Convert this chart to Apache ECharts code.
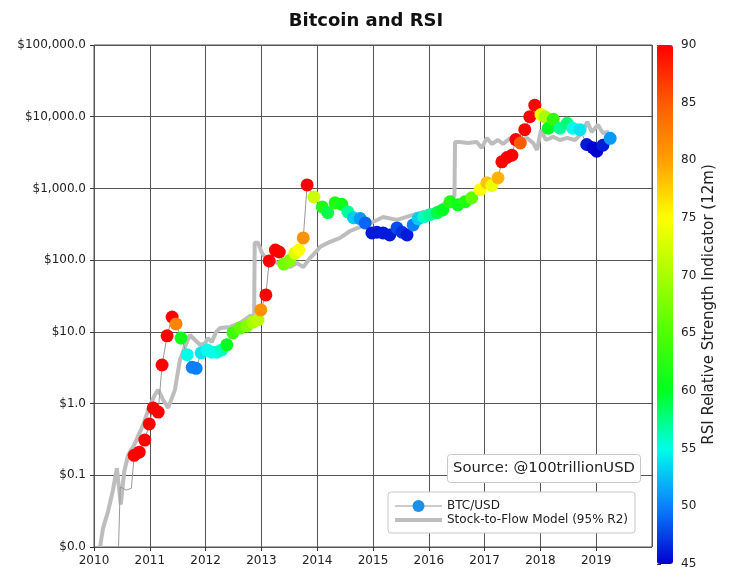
<!DOCTYPE html>
<html>
<head>
<meta charset="utf-8">
<script src="https://cdn.jsdelivr.net/npm/echarts@6/dist/echarts.min.js"></script>
<style>
  html, body { margin: 0; padding: 0; background: #fff; }
  #chart { width: 732px; height: 583px; }
</style>
</head>
<body>
<div id="chart"></div>
<script>
// BTC/USD price (decimal year, USD, 12m RSI; null = no dot)
const btcDates = [2010.44, 2010.47, 2010.58, 2010.67,
  2010.72, 2010.81, 2010.91, 2010.99,
  2011.06, 2011.15, 2011.22, 2011.31, 2011.40, 2011.47, 2011.56, 2011.67, 2011.76, 2011.83, 2011.92,
  2012.03, 2012.11, 2012.20, 2012.29, 2012.38, 2012.49, 2012.62, 2012.74, 2012.85, 2012.94, 2012.99,
  2013.08, 2013.14, 2013.25, 2013.32, 2013.40, 2013.51, 2013.60, 2013.67, 2013.75, 2013.82, 2013.94,
  2014.09, 2014.19, 2014.32, 2014.44, 2014.55, 2014.65, 2014.77, 2014.86, 2014.98,
  2015.07, 2015.18, 2015.30, 2015.43, 2015.52, 2015.61, 2015.72, 2015.81, 2015.91,
  2016.02, 2016.15, 2016.25, 2016.38, 2016.52, 2016.65, 2016.77, 2016.92,
  2017.04, 2017.13, 2017.24, 2017.31, 2017.40, 2017.49, 2017.56, 2017.64, 2017.72, 2017.81, 2017.90,
  2018.01, 2018.08, 2018.14, 2018.23, 2018.35, 2018.48, 2018.58, 2018.71, 2018.83, 2018.94,
  2019.01, 2019.12, 2019.25]
const btcPrices = [0.0101, 0.069, 0.062, 0.066,
  0.19, 0.21, 0.31, 0.52,
  0.87, 0.76, 3.45, 8.8, 16.1, 12.9, 8.2, 4.8, 3.2, 3.1, 5.1,
  5.6, 5.2, 5.2, 5.6, 6.6, 9.7, 11.3, 12.1, 13.7, 14.7, 20.2,
  32.7, 97.5, 138, 130, 88, 100, 125, 139, 204, 1120, 760,
  552, 460, 630, 600, 470, 390, 380, 330, 240,
  245, 240, 225, 281, 245, 225, 310, 380, 400,
  430, 460, 500, 650, 590, 650, 740, 960,
  1200, 1100, 1400, 2350, 2700, 2900, 4800, 4300, 6600, 10000, 14500,
  10700, 10000, 6900, 9200, 6900, 8100, 6900, 6600, 4100, 3700,
  3300, 4000, 5000]
const btcRsi = [null, null, null, null,
  90, 90, 90, 90,
  90, 90, 90, 90, 90, 82, 61, 55, 50, 50, 54,
  55, 55, 55, 56, 60, 64, 66, 68, 70, 71, 81,
  90, 90, 90, 90, 67, 68, 73, 75, 81, 90, 72,
  62, 59, 62, 61, 57, 53, 51, 49, 46,
  46, 46, 46, 48, 47, 46, 50, 53, 56,
  57, 59, 60, 62, 61, 62, 66, 75,
  78, 74, 79, 90, 90, 90, 90, 85, 90, 90, 90,
  74, 70, 60, 63, 57, 58, 55, 54, 46, 45,
  45, 46, 51]

// Stock-to-Flow model line
const s2fDates = [2010.11, 2010.16, 2010.25, 2010.34, 2010.41, 2010.48, 2010.54, 2010.61, 2010.72, 2010.88, 2010.97,
  2011.09, 2011.15, 2011.24, 2011.33, 2011.45, 2011.54, 2011.63, 2011.72, 2011.81, 2011.90, 2011.99,
  2012.04, 2012.11, 2012.19, 2012.26, 2012.44, 2012.62, 2012.80, 2012.87, 2012.88, 2012.94,
  2013.01, 2013.10, 2013.19, 2013.28, 2013.39, 2013.51, 2013.64, 2013.75, 2013.87,
  2014.01, 2014.05, 2014.23, 2014.41, 2014.59, 2014.77,
  2015.00, 2015.18, 2015.43, 2015.66, 2015.84,
  2016.08, 2016.25, 2016.42, 2016.46, 2016.47, 2016.56, 2016.70, 2016.86, 2016.95,
  2017.04, 2017.13, 2017.24, 2017.33, 2017.46, 2017.54, 2017.67, 2017.76, 2017.87, 2017.94,
  2018.01, 2018.10, 2018.23, 2018.35, 2018.48, 2018.62, 2018.75, 2018.84, 2018.92,
  2019.03, 2019.12, 2019.23]
const s2fPrices = [0.0101, 0.018, 0.031, 0.062, 0.126, 0.039, 0.111, 0.19, 0.265, 0.50, 0.81,
  1.32, 1.55, 1.12, 0.87, 1.55, 4.06, 6.2, 9.05, 7.7, 6.6, 6.9,
  8.2, 7.2, 10.0, 11.3, 11.7, 13.3, 16.7, 16.9, 175, 175,
  126, 100, 106, 91, 95, 80, 91, 80, 107,
  139, 153, 180, 204, 255, 290,
  341, 400, 364, 414, 455,
  501, 590, 762, 780, 4450, 4450, 4310, 4450, 3670,
  5060, 4170, 4740, 4170, 5060, 4310, 4740, 5060, 4310, 3440,
  6550, 4740, 5230, 4740, 5060, 4740, 5940, 8460, 6140,
  7690, 5940, 6140]

// colour bar stops, 45 -> 90 in steps of 5
const rsiColors = ['#0000d0', '#0a80ff', '#00ffe8', '#00ff20', '#50ff00',
  '#a8ff00', '#ffff00', '#ffa000', '#ff5a00', '#ff0000']

const font = 'DejaVu Sans'

const btcLine = btcDates.map((d, i) => [d, btcPrices[i]])
const btcDots = btcDates.map((d, i) => [d, btcPrices[i], btcRsi[i]]).filter(p => p[2] != null)
const s2fLine = s2fDates.map((d, i) => [d, s2fPrices[i]])

const money = (v) => '$' + Number(v).toLocaleString('en-US', { minimumFractionDigits: 1, maximumFractionDigits: 1 })

const chart = echarts.init(document.getElementById('chart'))
chart.setOption({
  animation: false,
  backgroundColor: '#fff',
  textStyle: { fontFamily: font },
  title: [
    {
      text: 'Bitcoin and RSI',
      left: 'center',
      top: 7,
      textStyle: { fontSize: 18, fontWeight: 'bold', color: '#111', fontFamily: font }
    },
    {
      text: 'Source: @100trillionUSD',
      left: 447,
      top: 454,
      padding: [7, 6, 7, 6],
      backgroundColor: '#fff',
      borderColor: '#c8c8c8',
      borderWidth: 1,
      borderRadius: 3,
      textStyle: { fontSize: 14.8, fontWeight: 'normal', color: '#222', fontFamily: font }
    }
  ],
  grid: [
    {
      left: 94, right: 80, top: 45, bottom: 36,
      show: true, borderColor: '#555', borderWidth: 1
    },
    // holds the colour bar tick axis
    { left: 657, right: 59, top: 45, bottom: 19 }
  ],
  xAxis: [
    {
      type: 'value',
      min: 2010,
      max: 2020,
      interval: 1,
      axisLine: { show: false },
      axisTick: { show: true, length: 4, lineStyle: { color: '#333' } },
      axisLabel: { color: '#222', fontSize: 12, margin: 8, showMaxLabel: false, formatter: (v) => String(v) },
      splitLine: { show: true, lineStyle: { color: '#555', width: 1 } }
    },
    { gridIndex: 1, type: 'value', show: false, min: 0, max: 1 }
  ],
  yAxis: [
    {
      type: 'log',
      logBase: 10,
      min: 0.01,
      max: 100000,
      interval: 1,
      axisLine: { show: false },
      axisTick: { show: true, length: 4, lineStyle: { color: '#333' } },
      axisLabel: { color: '#222', fontSize: 12, margin: 8, formatter: money },
      splitLine: { show: true, lineStyle: { color: '#555', width: 1 } }
    },
    {
      gridIndex: 1,
      type: 'value',
      position: 'right',
      min: 45,
      max: 90,
      interval: 5,
      name: 'RSI Relative Strength Indicator (12m)',
      nameLocation: 'middle',
      nameRotate: 90,
      nameGap: 29,
      nameTextStyle: { fontSize: 15, color: '#222', fontFamily: font },
      axisLine: { show: false },
      axisTick: { show: true, length: 4, lineStyle: { color: '#333' } },
      axisLabel: { color: '#222', fontSize: 12, margin: 8 },
      splitLine: { show: false }
    }
  ],
  visualMap: {
    type: 'continuous',
    seriesIndex: 2,
    dimension: 2,
    min: 45,
    max: 90,
    calculable: false,
    hoverLink: false,
    left: 657,
    top: 45,
    padding: 0,
    itemWidth: 16,
    itemHeight: 519,
    text: null,
    inRange: { color: rsiColors }
  },
  legend: {
    data: ['BTC/USD', 'Stock-to-Flow Model (95% R2)'],
    orient: 'vertical',
    left: 388,
    top: 492,
    padding: [8, 7, 7, 5],
    itemWidth: 47,
    itemHeight: 15,
    itemGap: 2,
    textGap: 7,
    backgroundColor: '#fff',
    borderColor: '#c8c8c8',
    borderWidth: 1,
    borderRadius: 3,
    lineStyle: { width: 'inherit' },
    textStyle: { fontSize: 12, color: '#222', fontFamily: font }
  },
  series: [
    {
      name: 'Stock-to-Flow Model (95% R2)',
      type: 'line',
      data: s2fLine,
      symbol: 'none',
      itemStyle: { color: 'rgba(0,0,0,0)' },
      lineStyle: { color: '#bdbdbd', width: 4 },
      z: 2
    },
    {
      name: 'BTC/USD',
      type: 'line',
      data: btcLine,
      symbol: 'circle',
      showSymbol: false,
      itemStyle: { color: '#1e8fe8' },
      lineStyle: { color: '#999', width: 1 },
      z: 3
    },
    {
      name: 'RSI',
      type: 'scatter',
      data: btcDots,
      symbolSize: 13,
      itemStyle: { opacity: 1 },
      z: 4
    }
  ]
})
</script>
</body>
</html>
